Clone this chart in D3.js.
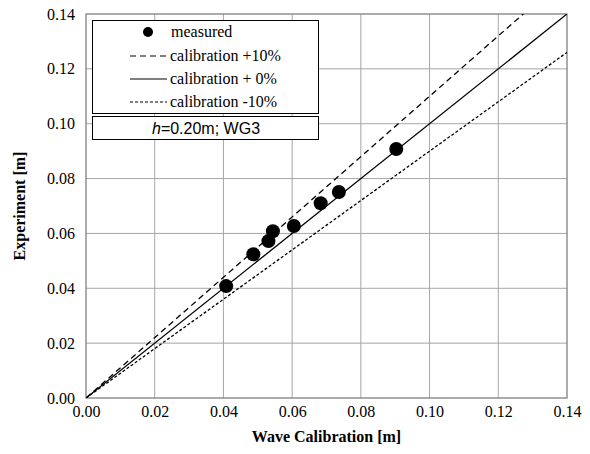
<!DOCTYPE html>
<html>
<head>
<meta charset="utf-8">
<script src="https://cdn.jsdelivr.net/npm/d3@7"></script>
<style>
  body { margin: 0; background: #fff; }
  svg text { font-family: "Liberation Serif", "DejaVu Serif", serif; }
</style>
</head>
<body>
<div id="chart"></div>
<script>
const WIDTH = 590;
const HEIGHT = 454;
const SERIF = "'Liberation Serif', 'DejaVu Serif', serif";

// data
const calibration = [0.0408, 0.0487, 0.0531, 0.0544, 0.0605, 0.0683, 0.0736, 0.0903];
const experiment = [0.0408, 0.0524, 0.0572, 0.0608, 0.0627, 0.0710, 0.0751, 0.0908];
const ticks = [0, 0.02, 0.04, 0.06, 0.08, 0.10, 0.12, 0.14];
const factors = [1.1, 1.0, 0.9];
const legendLabels = ["measured", "calibration +10%", "calibration + 0%", "calibration -10%"];

const margin = { left: 86, right: 23, top: 14, bottom: 56 };

const svg = d3.select("#chart")
    .append("svg")
    .attr("width", WIDTH)
    .attr("height", HEIGHT);

const x = d3.scaleLinear()
    .domain([0, 0.14])
    .range([margin.left, WIDTH - margin.right]);

const y = d3.scaleLinear()
    .domain([0, 0.14])
    .range([HEIGHT - margin.bottom, margin.top]);

svg.append("defs").append("clipPath")
    .attr("id", "plot-clip")
    .append("rect")
    .attr("x", x(0))
    .attr("y", y(0.14))
    .attr("width", x(0.14) - x(0))
    .attr("height", y(0) - y(0.14));

/* GRID */
const grid = svg.append("g");

grid.selectAll(".vgrid")
    .data(ticks.slice(1, -1))
    .enter()
    .append("line")
    .attr("x1", d => x(d)).attr("x2", d => x(d))
    .attr("y1", y(0)).attr("y2", y(0.14))
    .style("stroke", "#a6a6a6")
    .style("stroke-width", 1);

grid.selectAll(".hgrid")
    .data(ticks.slice(1, -1))
    .enter()
    .append("line")
    .attr("x1", x(0)).attr("x2", x(0.14))
    .attr("y1", d => y(d)).attr("y2", d => y(d))
    .style("stroke", "#a6a6a6")
    .style("stroke-width", 1);

svg.append("rect")
    .attr("x", x(0))
    .attr("y", y(0.14))
    .attr("width", x(0.14) - x(0))
    .attr("height", y(0) - y(0.14))
    .style("fill", "none")
    .style("stroke", "#808080")
    .style("stroke-width", 1.3);

/* AXES */
const xAxis = svg.append("g")
    .attr("transform", `translate(0, ${y(0)})`)
    .call(d3.axisBottom(x).tickValues(ticks).tickFormat(d3.format(".2f")).tickSize(0).tickPadding(8));

const yAxis = svg.append("g")
    .attr("transform", `translate(${x(0)}, 0)`)
    .call(d3.axisLeft(y).tickValues(ticks).tickFormat(d3.format(".2f")).tickSize(0).tickPadding(11));

[xAxis, yAxis].forEach(a => {
    a.attr("font-family", SERIF).attr("font-size", 16);
    a.select(".domain").remove();
    a.selectAll("text")
        .style("font-family", SERIF)
        .style("font-size", "16px")
        .style("fill", "#000");
});

svg.append("text")
    .attr("x", (x(0) + x(0.14)) / 2)
    .attr("y", 442)
    .attr("text-anchor", "middle")
    .style("font-family", SERIF)
    .style("font-size", "16px")
    .style("font-weight", "bold")
    .text("Wave Calibration [m]");

svg.append("text")
    .attr("transform", `translate(25, ${(y(0) + y(0.14)) / 2}) rotate(-90)`)
    .attr("text-anchor", "middle")
    .style("font-family", SERIF)
    .style("font-size", "16px")
    .style("font-weight", "bold")
    .text("Experiment [m]");

/* LINES */
const dashes = ["6,4", null, "3,2"];
const lines = svg.append("g").attr("clip-path", "url(#plot-clip)");

factors.forEach((f, i) => {
    lines.append("line")
        .attr("x1", x(0)).attr("y1", y(0))
        .attr("x2", x(0.14)).attr("y2", y(0.14 * f))
        .style("stroke", "#000")
        .style("stroke-width", 1.3)
        .style("stroke-dasharray", dashes[i]);
});

/* POINTS */
svg.append("g")
    .selectAll("circle")
    .data(calibration.map((c, i) => [c, experiment[i]]))
    .enter()
    .append("circle")
    .attr("cx", d => x(d[0]))
    .attr("cy", d => y(d[1]))
    .attr("r", 7)
    .style("fill", "#000");

/* LEGEND */
const legend = svg.append("g");

legend.append("rect")
    .attr("x", 92.5).attr("y", 20.5)
    .attr("width", 226).attr("height", 93)
    .style("fill", "#fff")
    .style("stroke", "#000")
    .style("stroke-width", 1);

const rowY = [32, 56, 79, 102];

legend.append("circle")
    .attr("cx", 148).attr("cy", rowY[0])
    .attr("r", 5)
    .style("fill", "#000");

factors.forEach((f, i) => {
    legend.append("line")
        .attr("x1", 130).attr("x2", 167)
        .attr("y1", rowY[i + 1]).attr("y2", rowY[i + 1])
        .style("stroke", "#000")
        .style("stroke-width", 1.2)
        .style("stroke-dasharray", dashes[i]);
});

legendLabels.forEach((l, i) => {
    legend.append("text")
        .attr("x", i === 0 ? 171 : 170)
        .attr("y", rowY[i] + 5)
        .style("font-family", SERIF)
        .style("font-size", "16px")
        .text(l);
});

legend.append("rect")
    .attr("x", 92.5).attr("y", 116.5)
    .attr("width", 226).attr("height", 23)
    .style("fill", "#fff")
    .style("stroke", "#000")
    .style("stroke-width", 1);

const caseLabel = legend.append("text")
    .attr("x", 206)
    .attr("y", 134)
    .attr("text-anchor", "middle")
    .style("font-family", "'Liberation Sans', Arial, sans-serif")
    .style("font-size", "16px");

caseLabel.append("tspan").style("font-style", "italic").text("h");
caseLabel.append("tspan").text("=0.20m; WG3");
</script>
</body>
</html>
